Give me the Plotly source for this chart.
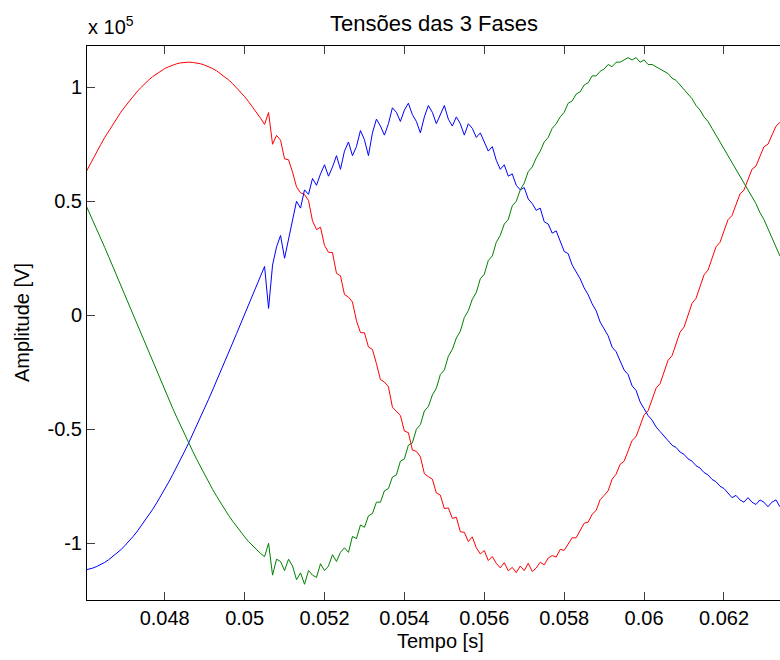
import plotly.graph_objects as go

# sample times [s] : 0.0460 .. 0.0634, step 0.1 ms
T_START = 0.0460
T_STEP = 0.0001
N = 175
tempo = [round(T_START + T_STEP * i, 4) for i in range(N)]

# amplitudes in units of 1e5 V
fase_vermelha = [
    0.618, 0.652, 0.686, 0.718, 0.749, 0.780, 0.809, 0.837, 0.864, 0.890,
    0.914, 0.937, 0.959, 0.979, 0.998, 1.016, 1.032, 1.047, 1.060, 1.072,
    1.082, 1.090, 1.097, 1.103, 1.107, 1.109, 1.110, 1.109, 1.107, 1.103,
    1.097, 1.090, 1.082, 1.072, 1.060, 1.047, 1.032, 1.016, 0.998, 0.979,
    0.959, 0.937, 0.914, 0.890, 0.864, 0.837, 0.889, 0.750, 0.789, 0.768,
    0.686, 0.682, 0.628, 0.563, 0.537, 0.530, 0.503, 0.414, 0.376, 0.386,
    0.306, 0.276, 0.275, 0.184, 0.173, 0.091, 0.080, 0.058, -0.024, -0.076,
    -0.077, -0.139, -0.150, -0.212, -0.282, -0.293, -0.313, -0.403, -0.422, -0.440,
    -0.508, -0.515, -0.591, -0.597, -0.621, -0.695, -0.708, -0.719, -0.780, -0.789,
    -0.848, -0.845, -0.891, -0.886, -0.950, -0.952, -0.993, -0.972, -1.020, -1.047,
    -1.032, -1.076, -1.058, -1.088, -1.108, -1.085, -1.121, -1.106, -1.129, -1.100,
    -1.120, -1.088, -1.124, -1.109, -1.083, -1.095, -1.065, -1.054, -1.061, -1.027,
    -1.031, -1.004, -0.976, -0.976, -0.945, -0.912, -0.908, -0.873, -0.856, -0.809,
    -0.790, -0.770, -0.719, -0.697, -0.654, -0.640, -0.595, -0.549, -0.532, -0.485,
    -0.437, -0.419, -0.369, -0.320, -0.300, -0.249, -0.198, -0.177, -0.125, -0.074,
    -0.052, 0.000, 0.052, 0.074, 0.125, 0.177, 0.198, 0.249, 0.300, 0.320,
    0.369, 0.419, 0.437, 0.485, 0.532, 0.549, 0.595, 0.640, 0.654, 0.697,
    0.739, 0.750, 0.790, 0.829, 0.846,
]

fase_azul = [
    -1.118, -1.114, -1.109, -1.102, -1.094, -1.084, -1.072, -1.059, -1.045, -1.029,
    -1.011, -0.993, -0.972, -0.951, -0.927, -0.903, -0.878, -0.851, -0.823, -0.794,
    -0.764, -0.732, -0.699, -0.666, -0.632, -0.596, -0.560, -0.523, -0.486, -0.447,
    -0.408, -0.368, -0.328, -0.288, -0.247, -0.205, -0.164, -0.122, -0.080, -0.038,
    0.005, 0.047, 0.089, 0.131, 0.173, 0.214, 0.03, 0.22, 0.30, 0.35,
    0.25, 0.33, 0.42, 0.50, 0.47, 0.55, 0.53, 0.60, 0.57, 0.62,
    0.66, 0.61, 0.65, 0.70, 0.64, 0.72, 0.76, 0.70, 0.74, 0.81,
    0.77, 0.70, 0.80, 0.86, 0.83, 0.79, 0.84, 0.91, 0.89, 0.85,
    0.90, 0.93, 0.88, 0.85, 0.80, 0.87, 0.92, 0.89, 0.84, 0.88,
    0.92, 0.86, 0.83, 0.87, 0.84, 0.79, 0.84, 0.82, 0.78, 0.80,
    0.76, 0.72, 0.74, 0.68, 0.64, 0.66, 0.61, 0.62, 0.57, 0.55,
    0.56, 0.51, 0.49, 0.46, 0.47, 0.41, 0.40, 0.36, 0.37, 0.32,
    0.28, 0.27, 0.22, 0.19, 0.16, 0.12, 0.09, 0.05, 0.02, -0.03,
    -0.06, -0.09, -0.14, -0.16, -0.20, -0.24, -0.26, -0.31, -0.33, -0.38,
    -0.41, -0.44, -0.46, -0.49, -0.51, -0.53, -0.55, -0.57, -0.58, -0.60,
    -0.61, -0.63, -0.64, -0.66, -0.67, -0.69, -0.70, -0.72, -0.73, -0.75,
    -0.76, -0.78, -0.80, -0.79, -0.81, -0.82, -0.80, -0.82, -0.83, -0.81,
    -0.82, -0.84, -0.82, -0.81, -0.84,
]

fase_verde = [
    0.494, 0.456, 0.417, 0.377, 0.337, 0.297, 0.256, 0.214, 0.173, 0.131,
    0.089, 0.047, 0.005, -0.038, -0.080, -0.122, -0.164, -0.205, -0.247, -0.288,
    -0.328, -0.368, -0.408, -0.447, -0.486, -0.523, -0.560, -0.596, -0.632, -0.666,
    -0.699, -0.732, -0.764, -0.794, -0.823, -0.851, -0.878, -0.903, -0.927, -0.951,
    -0.972, -0.993, -1.011, -1.029, -1.045, -1.059, -1.00, -1.14, -1.07, -1.08,
    -1.12, -1.07, -1.10, -1.16, -1.13, -1.18, -1.12, -1.14, -1.15, -1.09,
    -1.12, -1.10, -1.05, -1.08, -1.04, -1.02, -1.04, -0.97, -0.98, -0.92,
    -0.93, -0.88, -0.87, -0.82, -0.82, -0.77, -0.76, -0.71, -0.70, -0.64,
    -0.63, -0.57, -0.56, -0.50, -0.48, -0.42, -0.40, -0.35, -0.32, -0.26,
    -0.24, -0.18, -0.15, -0.10, -0.07, -0.01, 0.02, 0.07, 0.10, 0.16,
    0.18, 0.24, 0.26, 0.32, 0.35, 0.40, 0.42, 0.48, 0.50, 0.55,
    0.58, 0.63, 0.65, 0.69, 0.72, 0.76, 0.78, 0.82, 0.84, 0.87,
    0.89, 0.93, 0.94, 0.97, 0.98, 1.01, 1.02, 1.05, 1.05, 1.07,
    1.08, 1.10, 1.09, 1.11, 1.11, 1.12, 1.13, 1.12, 1.13, 1.11,
    1.12, 1.10, 1.10, 1.09, 1.08, 1.07, 1.06, 1.04, 1.03, 1.01,
    0.99, 0.97, 0.95, 0.92, 0.90, 0.87, 0.85, 0.82, 0.79, 0.76,
    0.73, 0.70, 0.67, 0.64, 0.61, 0.58, 0.55, 0.52, 0.49, 0.45,
    0.42, 0.38, 0.34, 0.30, 0.26,
]

x_ticks = [0.048, 0.05, 0.052, 0.054, 0.056, 0.058, 0.06, 0.062]
x_tick_labels = ["0.048", "0.05", "0.052", "0.054", "0.056", "0.058", "0.06", "0.062"]
y_ticks = [-1, -0.5, 0, 0.5, 1]
y_tick_labels = ["-1", "-0.5", "0", "0.5", "1"]

FONT = "Liberation Sans, Arial, sans-serif"
FS = 20

W, H = 780, 660
L, R, T, B = 87, 0, 46, 60
pw, ph = W - L - R, H - T - B


def px(x):
    return (x - L) / pw


def py(y):
    return 1 - (y - T) / ph


fig = go.Figure()
for vals, col in [(fase_vermelha, "#ff0000"), (fase_azul, "#0000ff"), (fase_verde, "#008000")]:
    fig.add_trace(go.Scatter(x=tempo, y=vals, mode="lines",
                             line=dict(color=col, width=1), showlegend=False,
                             hoverinfo="skip"))

axis_common = dict(ticks="inside", ticklen=8, tickcolor="#404040", tickwidth=1,
                   showline=True, linecolor="black", linewidth=1,
                   showgrid=False, zeroline=False, tickfont=dict(size=FS))

fig.update_layout(
    width=W, height=H,
    margin=dict(l=L, r=R, t=T, b=B, autoexpand=False),
    paper_bgcolor="white", plot_bgcolor="white",
    font=dict(family=FONT, size=FS, color="black"),
    showlegend=False,
    xaxis=dict(range=[0.046055, 0.063402], tickvals=x_ticks, ticktext=x_tick_labels,
               mirror="allticks", **axis_common),
    yaxis=dict(range=[-1.249, 1.181], tickvals=y_ticks, ticktext=y_tick_labels,
               mirror=False, **axis_common),
    annotations=[
        dict(text="Tensões das 3 Fases", x=px(434), y=py(23), xref="paper", yref="paper",
             showarrow=False, yanchor="middle", font=dict(size=22)),
        dict(text="Tempo [s]", x=px(440), y=py(641), xref="paper", yref="paper",
             showarrow=False, yanchor="middle", font=dict(size=FS)),
        dict(text="Amplitude [V]", x=px(22), y=py(323), xref="paper", yref="paper",
             textangle=-90, showarrow=False, xanchor="center", yanchor="middle",
             font=dict(size=FS)),
        dict(text="x 10<sup>5</sup>", x=px(86), y=py(26), xref="paper", yref="paper",
             showarrow=False, xanchor="left", yanchor="middle", font=dict(size=FS)),
    ],
)

# remove the default page margin so the 780x660 figure fills the window exactly
fig.write_html(
    "out.html",
    config={"displayModeBar": False, "staticPlot": True},
    post_script="document.body.style.margin='0';document.body.style.overflow='hidden';",
)
